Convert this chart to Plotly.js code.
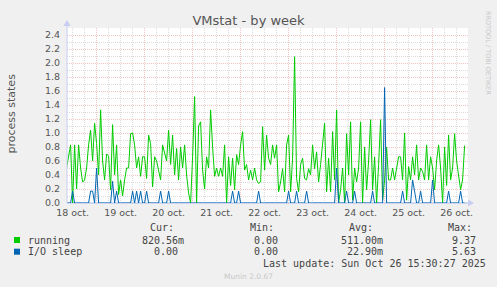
<!DOCTYPE html>
<html>
<head>
<meta charset="utf-8">
<script src="https://cdn.plot.ly/plotly-3.0.1.min.js"></script>
<style>
html,body{margin:0;padding:0;background:#f0f0f0;}
#chart{width:497px;height:287px;}
</style>
</head>
<body>
<div id="chart"></div>
<script>
// ---- data (hourly samples, starting Oct 18 09:00) ----
const startTime = Date.UTC(2025, 9, 18, 9, 0, 0);
const stepHours = 1;
const running = [
 0.5,0.66,0.83,0.0,0.83,0.2,0.83,0.5,0.3,0.33,
 0.5,0.83,1.04,0.6,1.14,0.85,0.4,1.33,0.6,0.33,
 0.7,0.67,0.19,1.12,0.4,0.83,0.12,0.33,0.1,0.33,
 0.5,0.5,0.99,1.0,0.83,0.5,0.66,0.38,0.66,0.66,
 0.35,0.97,0.85,0.23,0.66,0.6,0.45,0.33,0.83,0.72,
 0.6,1.04,0.55,0.97,0.4,0.78,0.33,0.8,0.5,0.83,
 0.4,0.14,0.0,0.66,1.52,0.0,1.1,1.16,0.47,0.2,
 0.66,0.5,1.33,0.8,0.38,0.5,0.38,0.5,0.38,0.83,
 0.0,0.66,0.25,0.64,0.19,0.69,0.55,0.83,1.02,0.47,
 0.55,0.33,0.47,0.33,0.5,0.33,0.28,0.3,1.09,0.47,
 0.97,0.64,0.55,0.83,0.64,0.83,0.16,0.3,0.49,0.16,
 0.83,0.97,0.16,0.64,2.09,0.35,0.16,0.55,0.64,0.35,
 0.33,0.49,0.4,0.83,0.49,0.73,0.3,0.55,0.83,1.14,
 0.16,0.64,0.16,1.02,0.33,1.33,0.0,0.19,0.5,0.0,
 0.99,0.4,1.16,0.04,0.5,0.3,0.5,1.16,0.0,0.8,
 0.19,0.6,1.19,0.19,0.66,0.0,0.55,1.19,0.04,0.33,
 0.8,0.33,0.33,0.5,0.33,0.5,0.66,0.66,0.33,1.0,
 0.04,0.52,0.33,0.66,0.4,0.83,0.33,0.5,0.45,0.33,
 0.83,0.33,0.66,0.5,0.19,0.6,0.83,0.5,0.0,0.8,
 0.25,0.97,0.33,0.5,0.99,0.6,0.4,0.19,0.33,0.82
];
const ioSleep = [
 0,0,0,0.17,0,0,0,0,0,0,
 0,0,0.17,0.17,0,0.5,0,0,0,0,
 0,0,0,0.31,0,0.17,0,0,0,0,
 0,0,0,0.17,0,0.17,0,0.17,0,0,
 0.17,0,0,0,0,0,0,0.17,0,0,
 0,0.17,0,0,0,0,0,0,0,0,
 0,0,0,0,0,0,0,0,0,0,
 0,0,0,0,0,0,0,0,0,0,
 0,0,0,0.17,0,0,0.17,0,0,0,
 0,0,0,0,0,0,0.17,0,0,0,
 0,0,0,0,0,0,0,0,0,0,
 0,0.17,0,0,0,0.17,0,0,0,0,
 0.17,0,0,0,0,0,0,0,0,0,
 0,0,0,0,0,0.5,0,0,0,0,
 0.17,0,0,0,0.17,0,0,0,0,0,
 0,0,0,0.17,0,0,0,0,0,1.65,
 0,0,0,0,0,0,0,0,0.17,0,
 0,0,0,0.33,0.17,0,0,0.17,0,0,
 0,0,0,0.33,0,0,0,0,0,0,
 0,0.17,0,0,0,0,0,0.17,0,0
];
const seriesNames = ['running', 'I/O sleep'];
const seriesColors = ['#00cc00', '#0066b3'];
const curVals = ['820.56m', '0.00'];
const minVals = ['0.00', '0.00'];
const avgVals = ['511.00m', '22.90m'];
const maxVals = ['9.37', '5.63'];
const lastUpdate = 'Last update: Sun Oct 26 15:30:27 2025';

// ---- helpers ----
function fmt(ms){ return new Date(ms).toISOString().replace('T',' ').slice(0,19); }
const times = running.map((_, i) => fmt(startTime + i*stepHours*3600000));

const L = 67, T = 28, W = 401, H = 175;
const px = x => (x - L) / W;
const py = y => (T + H - y) / H;

const mono = {family: 'DejaVu Sans Mono', size: 10, color: '#444'};
const ann = [];
function txt(x, y, text, anchor, font){
  ann.push({xref:'paper', yref:'paper', x: px(x), y: py(y), text: text, showarrow:false,
            xanchor: anchor, yanchor:'middle', font: font || mono, borderpad:0});
}
txt(149, 227.5, 'Cur:', 'left');
txt(249, 227.5, 'Min:', 'left');
txt(348.3, 227.5, 'Avg:', 'left');
txt(446.7, 227.5, 'Max:', 'left');
const rowY = [240, 251.7];
const shapes = [];
seriesNames.forEach((n, k) => {
  txt(26.7, rowY[k], n, 'left');
  txt(185, rowY[k], curVals[k] + (curVals[k].endsWith('m') ? '' : ' '), 'right');
  txt(285, rowY[k], minVals[k] + ' ', 'right');
  txt(384, rowY[k], avgVals[k] + (avgVals[k].endsWith('m') ? '' : ' '), 'right');
  txt(483, rowY[k], maxVals[k] + ' ', 'right');
  shapes.push({type:'rect', xref:'paper', yref:'paper', x0: px(14), x1: px(20),
               y0: py(rowY[k]+3), y1: py(rowY[k]-3), fillcolor: seriesColors[k], line:{width:0}});
});
txt(261.7, 263.7, lastUpdate, 'left');
txt(248.5, 276, 'Munin 2.0.67', 'center', {family:'DejaVu Sans', size:7.5, color:'#c8c8c8'});
ann.push({xref:'paper', yref:'paper', x: px(11), y: py(113.5), text:'process states', showarrow:false,
          textangle:-90, xanchor:'center', yanchor:'middle', font:{family:'DejaVu Sans', size:11, color:'#555'}});
ann.push({xref:'paper', yref:'paper', x: px(488), y: py(53), text:'RRDTOOL / TOBI OETIKER', showarrow:false,
          textangle:90, xanchor:'center', yanchor:'middle', font:{family:'DejaVu Sans', size:6.5, color:'#c8c8c8'}});

// axis lines with arrows
shapes.push({type:'line', xref:'paper', yref:'paper', x0:px(67), x1:px(67), y0:py(203), y1:py(25),
             line:{color:'#c8cdf2', width:1}, layer:'above'});
shapes.push({type:'line', xref:'paper', yref:'paper', x0:px(67), x1:px(470), y0:py(203), y1:py(203),
             line:{color:'#a9b9ea', width:1}, layer:'between'});
shapes.push({type:'path', xref:'paper', yref:'paper',
             path:`M ${px(63.5)} ${py(26)} L ${px(70.5)} ${py(26)} L ${px(67)} ${py(20)} Z`,
             fillcolor:'#c8cdf2', line:{width:0}});
shapes.push({type:'path', xref:'paper', yref:'paper',
             path:`M ${px(468)} ${py(199.5)} L ${px(468)} ${py(206.5)} L ${px(474)} ${py(203)} Z`,
             fillcolor:'#c8cdf2', line:{width:0}});

const traces = [
  {x: times, y: running, type:'scatter', mode:'lines', line:{color:seriesColors[0], width:1}, hoverinfo:'skip'},
  {x: times, y: ioSleep, type:'scatter', mode:'lines', line:{color:seriesColors[1], width:1}, hoverinfo:'skip'}
];

const tickFont = {family:'DejaVu Sans', size:9.5, color:'#555'};
const majorGrid = '#f2c4c4';
const minorGrid = '#dcdcdc';
const layout = {
  width: 497, height: 287,
  margin: {l: L, r: 497 - L - W, t: T, b: 287 - T - H, pad: 0},
  paper_bgcolor: '#f0f0f0', plot_bgcolor: '#ffffff',
  showlegend: false,
  title: {text:'VMstat - by week', x:0.5, xref:'container', xanchor:'center',
          y: 1 - 20/287, yref:'container', yanchor:'middle',
          font:{family:'DejaVu Sans', size:13, color:'#555'}},
  xaxis: {
    type:'date', range:['2025-10-18 09:12:00', '2025-10-26 17:42:00'],
    tick0:'2025-10-18 00:00:00', dtick: 86400000, ticklabelmode:'period',
    tickformat:'%d oct.', tickfont: tickFont, ticks:'', ticklabelstandoff: 2,
    showgrid:true, gridcolor:majorGrid, griddash:'1px,1px', gridwidth:1,
    minor:{tick0:'2025-10-18 00:00:00', dtick: 6*3600000, showgrid:true, gridcolor:minorGrid, griddash:'1px,1px', ticks:''},
    showline:false, zeroline:false, fixedrange:true
  },
  yaxis: {
    range:[0, 2.5], tick0:0, dtick:0.2, tickformat:'.1f', tickfont: tickFont, ticks:'',
    ticklabelstandoff: 6,
    showgrid:true, gridcolor:majorGrid, griddash:'1px,1px', gridwidth:1,
    minor:{tick0:0, dtick:0.1, showgrid:true, gridcolor:minorGrid, griddash:'1px,1px', ticks:''},
    showline:false, zeroline:false, fixedrange:true
  },
  annotations: ann,
  shapes: shapes
};

Plotly.newPlot('chart', traces, layout, {staticPlot:true, displayModeBar:false});
</script>
</body>
</html>
